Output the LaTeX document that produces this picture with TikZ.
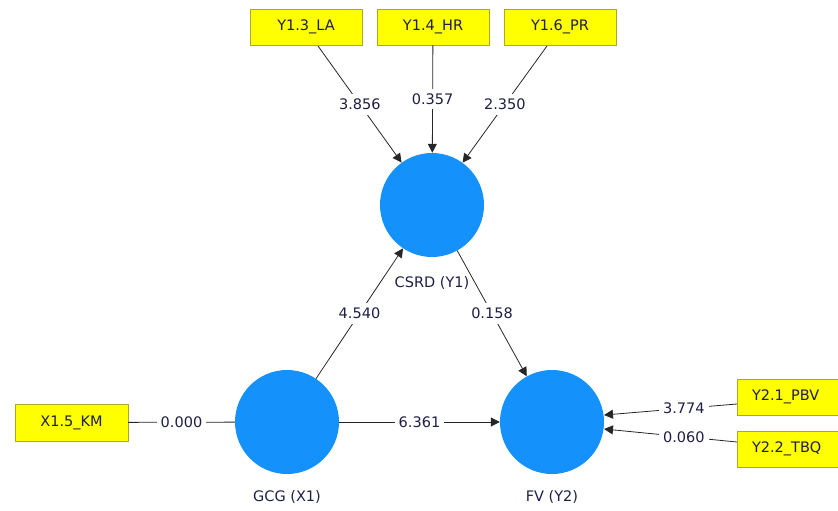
\documentclass[tikz,border=0pt]{standalone}
\usepackage{fontspec}
\setmainfont{DejaVu Sans}
\usetikzlibrary{arrows.meta}
\definecolor{lvblue}{RGB}{20,145,250}
\definecolor{ind}{RGB}{255,255,0}
\definecolor{indborder}{RGB}{170,170,40}
\definecolor{txt}{RGB}{30,30,70}
\begin{document}
\begin{tikzpicture}[x=1pt,y=-1pt,
  every node/.style={font=\fontsize{14.5}{16}\selectfont, text=txt},
  indbox/.style={draw=indborder, fill=ind, minimum width=112pt, minimum height=36pt, inner sep=0pt},
  latent/.style={circle, fill=lvblue, minimum size=104pt, inner sep=0pt},
  lbl/.style={fill=white, inner xsep=4pt, inner ysep=5pt},
  arr/.style={draw=black!85, line width=0.8pt, -{Triangle[length=9pt,width=9pt]}},
  ln/.style={draw=black!85, line width=0.8pt}]
\useasboundingbox (0,0) rectangle (838,511);
% latent variables
\node[latent] (csrd) at (432,205) {};
\node[latent] (gcg) at (287,422) {};
\node[latent] (fv) at (552,422) {};
\node (csrdl) at (432,283) {CSRD (Y1)};
\node (gcgl) at (287,497) {GCG (X1)};
\node (fvl) at (552,497) {FV (Y2)};
% indicators
\node[indbox] (la) at (306,27) {Y1.3\_LA};
\node[indbox] (hr) at (433,27) {Y1.4\_HR};
\node[indbox] (pr) at (560,27) {Y1.6\_PR};
\node[indbox, minimum width=113pt, minimum height=37pt] (km) at (71.5,422.5) {X1.5\_KM};
\node[indbox, minimum width=113pt, text width=100pt, align=left] (pbv) at (794,397) {\hspace*{8pt}Y2.1\_PBV};
\node[indbox, minimum width=113pt, text width=100pt, align=left] (tbq) at (794,449) {\hspace*{8pt}Y2.2\_TBQ};
% coordinates
\coordinate (laS) at (318,46);
\coordinate (prS) at (547,46);
\coordinate (pbvW) at (737,404);
\coordinate (tbqW) at (737,442);
\coordinate (fvA) at (604,415);
\coordinate (fvB) at (604,429);
% connectors
\draw[arr] (laS) -- (csrd) node[lbl, pos=0.5] {3.856};
\draw[arr] (hr) -- (csrd) node[lbl, pos=0.5] {0.357};
\draw[arr] (prS) -- (csrd) node[lbl, pos=0.5] {2.350};
\draw[arr] (gcg) -- (csrd) node[lbl, pos=0.5] {4.540};
\draw[arr] (csrd) -- (fv) node[lbl, pos=0.5] {0.158};
\draw[arr] (gcg) -- (fv) node[lbl, pos=0.5] {6.361};
\draw[ln] (km) -- (gcg) node[lbl, pos=0.5] {0.000};
\draw[arr] (pbvW) -- (fvA) node[lbl, pos=0.4, inner ysep=2pt] {3.774};
\draw[arr] (tbqW) -- (fvB) node[lbl, pos=0.4, inner ysep=2pt] {0.060};
\end{tikzpicture}
\end{document}
